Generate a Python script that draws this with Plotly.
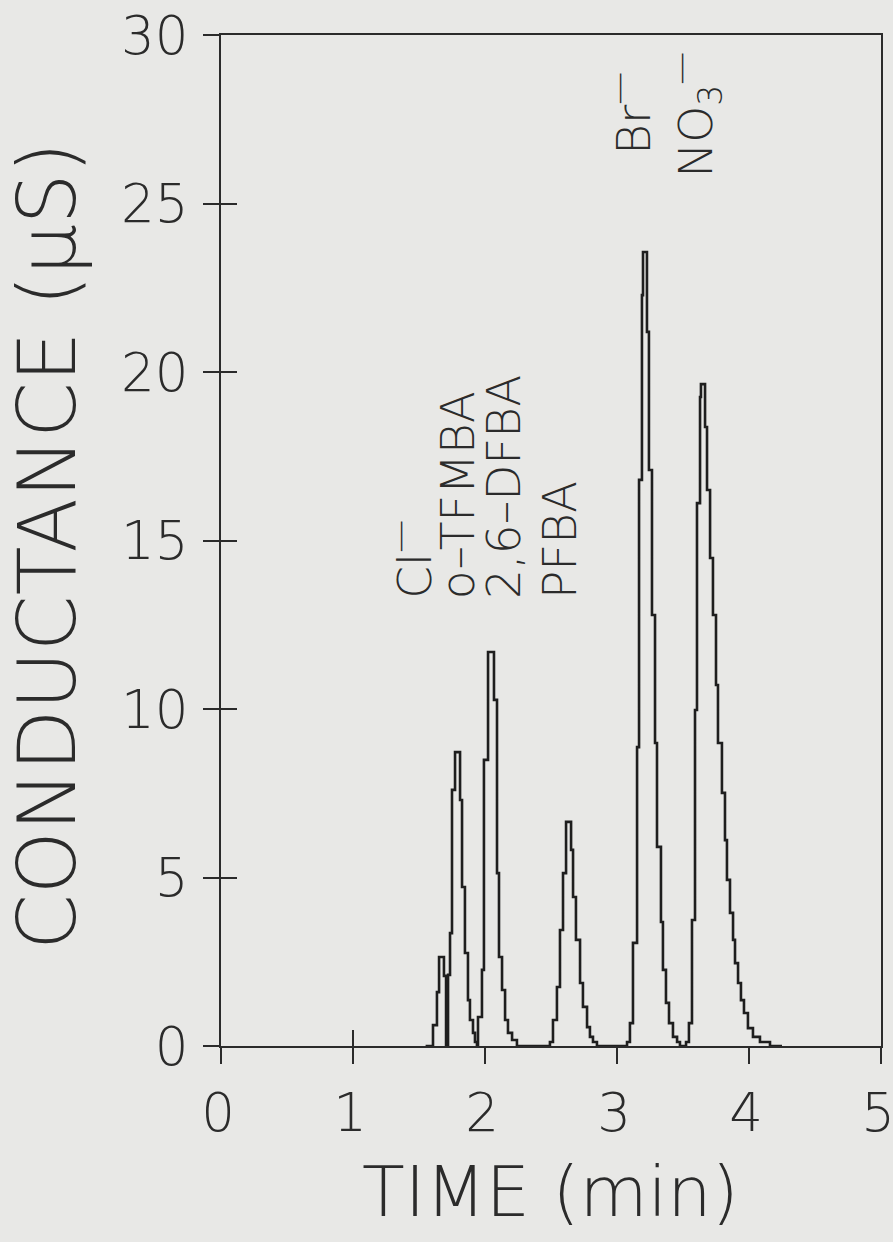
import plotly.graph_objects as go

# ---- data (time in min, conductance in uS) ----
cl_t = [1.591, 1.606, 1.636, 1.652, 1.689, 1.705]
cl_v = [0.0, 0.62, 1.60, 2.64, 2.08, 0.0]

tfmba_t = [1.720, 1.735, 1.750, 1.773, 1.811, 1.826, 1.848, 1.871, 1.886, 1.909, 1.924, 1.939]
tfmba_v = [2.11, 3.35, 7.60, 8.72, 7.30, 4.72, 2.76, 1.36, 0.77, 0.39, 0.12, 0.0]

dfba_t = [1.947, 1.977, 1.992, 2.023, 2.068, 2.091, 2.106, 2.129, 2.152, 2.174, 2.205, 2.242]
dfba_v = [0.86, 2.26, 8.49, 11.69, 10.27, 5.13, 2.64, 1.66, 0.77, 0.39, 0.18, 0.0]

pfba_t = [2.492, 2.515, 2.545, 2.568, 2.591, 2.614, 2.652, 2.667, 2.689, 2.720, 2.742, 2.773, 2.795, 2.818, 2.848]
pfba_v = [0.12, 0.77, 1.75, 3.44, 5.13, 6.65, 5.82, 4.42, 3.15, 1.87, 1.16, 0.56, 0.27, 0.12, 0.0]

br_t = [3.076, 3.098, 3.121, 3.152, 3.167, 3.189, 3.197, 3.227, 3.242, 3.265, 3.288, 3.303,
        3.333, 3.348, 3.371, 3.394, 3.424, 3.455, 3.477]
br_v = [0.12, 0.68, 3.06, 8.87, 16.80, 22.28, 23.56, 21.19, 17.09, 12.79, 8.99, 5.91,
        3.68, 2.26, 1.28, 0.68, 0.27, 0.12, 0.0]

no3_t = [3.523, 3.545, 3.568, 3.591, 3.606, 3.629, 3.636, 3.667, 3.682, 3.705, 3.727, 3.750,
         3.765, 3.795, 3.818, 3.833, 3.856, 3.879, 3.894, 3.917, 3.939, 3.962, 3.992, 4.030,
         4.083, 4.159]
no3_v = [0.12, 0.68, 3.74, 9.97, 16.11, 19.26, 19.64, 18.37, 16.50, 14.48, 12.79, 10.71,
         8.99, 7.51, 6.11, 4.93, 3.95, 3.15, 2.46, 1.87, 1.36, 0.98, 0.53, 0.27,
         0.12, 0.0]

baseline_start = [1.55, 0.0]
baseline_end = [4.25, 0.0]

# peak labels: (text, time, conductance at label start)
label_text = ["Cl<sup>—</sup>", "o–TFMBA", "2,6–DFBA", "PFBA", "Br<sup>—</sup>", "NO<sub>3</sub><sup>—</sup>"]
label_t = [1.440, 1.788, 2.136, 2.560, 3.098, 3.598]
label_v = [13.2, 13.2, 13.2, 13.2, 26.4, 25.7]

x_ticks = [0, 1, 2, 3, 4, 5]
y_ticks = [0, 5, 10, 15, 20, 25, 30]

# ---- assemble series ----
t_all = [baseline_start[0]] + cl_t + tfmba_t + dfba_t + pfba_t + br_t + no3_t + [baseline_end[0]]
v_all = [baseline_start[1]] + cl_v + tfmba_v + dfba_v + pfba_v + br_v + no3_v + [baseline_end[1]]

INK = "#2b2b2b"
BG = "#e8e8e6"
FONT = "'DejaVu Sans', 'Open Sans', sans-serif"
W = 200

fig = go.Figure()
fig.add_trace(go.Scatter(
    x=t_all, y=v_all, mode="lines", line=dict(color="#1e1e1e", width=2.6, shape="hv"),
    hoverinfo="skip", showlegend=False))
# invisible trace to register the overlay axes used for crossing ticks
fig.add_trace(go.Scatter(
    x=t_all, y=v_all, xaxis="x2", yaxis="y2", mode="lines", line=dict(width=0),
    opacity=0, hoverinfo="skip", showlegend=False))

tickfont = dict(family=FONT, size=53, color=INK, weight=W)

fig.update_layout(
    template="none",
    width=893, height=1242,
    margin=dict(l=221, r=12, t=35, b=196, autoexpand=False),
    paper_bgcolor=BG, plot_bgcolor=BG,
    font=dict(family=FONT, color=INK, weight=W),
    xaxis=dict(range=[0, 5], tickvals=x_ticks, ticktext=[str(v) for v in x_ticks],
               ticks="outside", ticklen=16, tickwidth=2, tickcolor=INK,
               showline=True, linewidth=2, linecolor=INK, mirror=True,
               showgrid=False, zeroline=False, tickfont=tickfont, automargin=False,
               ticklabelstandoff=3, ticklabelshift=-3, ticklabeloverflow="allow"),
    yaxis=dict(range=[0, 30], tickvals=y_ticks, ticktext=[str(v) for v in y_ticks],
               ticks="outside", ticklen=16, tickwidth=2, tickcolor=INK,
               showline=True, linewidth=2, linecolor=INK, mirror=True,
               showgrid=False, zeroline=False, tickfont=tickfont, automargin=False,
               ticklabelstandoff=4, ticklabeloverflow="allow"),
    xaxis2=dict(range=[0, 5], overlaying="x", anchor="y2", side="bottom",
                tickvals=[1], ticks="inside", ticklen=16, tickwidth=2, tickcolor=INK,
                showticklabels=False, showline=False, showgrid=False, zeroline=False,
                automargin=False),
    yaxis2=dict(range=[0, 30], overlaying="y", anchor="x2", side="left",
                tickvals=y_ticks, ticks="inside", ticklen=16, tickwidth=2, tickcolor=INK,
                showticklabels=False, showline=False, showgrid=False, zeroline=False,
                automargin=False),
)

for txt, tx, ty in zip(label_text, label_t, label_v):
    fig.add_annotation(x=tx, y=ty, xref="x", yref="y", text=txt, textangle=-90,
                       showarrow=False, xanchor="center", yanchor="bottom",
                       font=dict(family=FONT, size=47, color=INK, weight=W))

fig.add_annotation(x=(47 - 221) / 660, y=(1046 - 546) / 1011, xref="paper", yref="paper",
                   text="CONDUCTANCE (μS)", textangle=-90, showarrow=False,
                   xanchor="center", yanchor="middle",
                   font=dict(family=FONT, size=80, color=INK, weight=W))
fig.add_annotation(x=(550 - 221) / 660, y=(1046 - 1192) / 1011, xref="paper", yref="paper",
                   text="TIME (min)", showarrow=False, xanchor="center", yanchor="middle",
                   font=dict(family=FONT, size=70, color=INK, weight=W))

fig.write_html("out.html")
